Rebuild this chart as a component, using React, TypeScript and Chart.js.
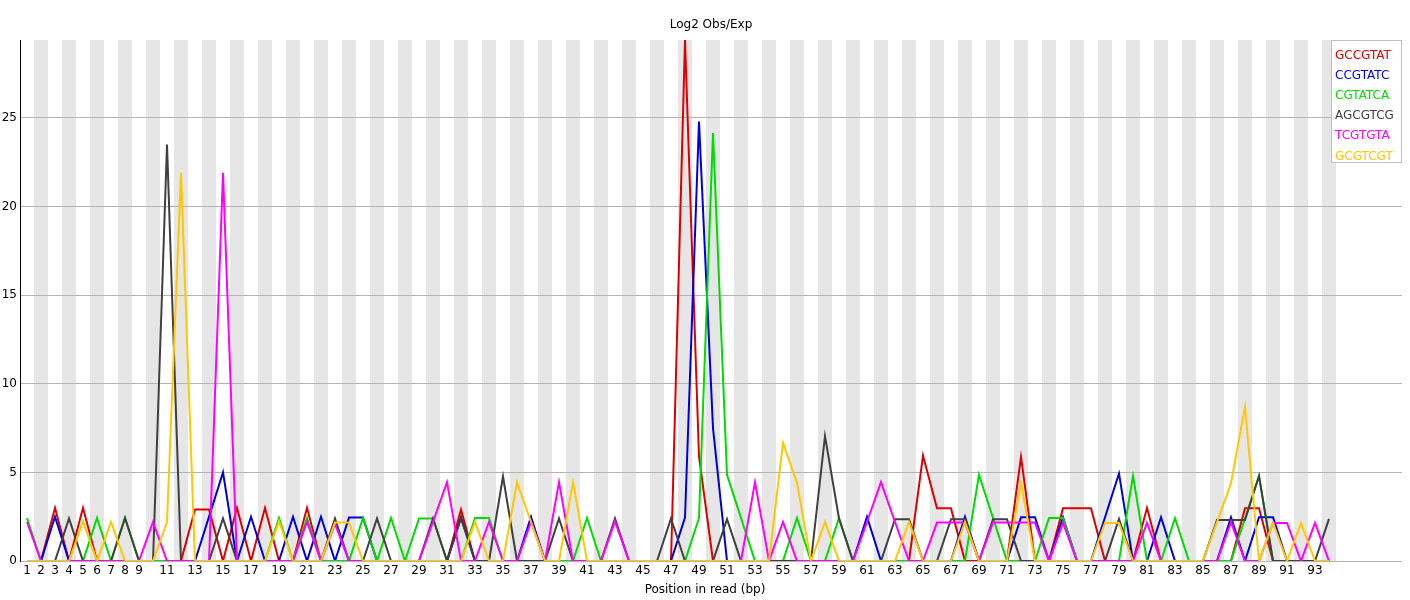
import React, { useEffect, useRef } from 'react';
import { Chart, registerables } from 'chart.js';

Chart.register(...registerables);

const positions = [
  1, 2, 3, 4, 5, 6, 7, 8, 9, 10, 11, 12, 13, 14, 15, 16, 17, 18, 19, 20,
  21, 22, 23, 24, 25, 26, 27, 28, 29, 30, 31, 32, 33, 34, 35, 36, 37, 38, 39, 40,
  41, 42, 43, 44, 45, 46, 47, 48, 49, 50, 51, 52, 53, 54, 55, 56, 57, 58, 59, 60,
  61, 62, 63, 64, 65, 66, 67, 68, 69, 70, 71, 72, 73, 74, 75, 76, 77, 78, 79, 80,
  81, 82, 83, 84, 85, 86, 87, 88, 89, 90, 91, 92, 93, 94,
];

const xTickValues = [
  1, 2, 3, 4, 5, 6, 7, 8, 9, 11, 13, 15, 17, 19, 21, 23, 25, 27, 29, 31, 33, 35,
  37, 39, 41, 43, 45, 47, 49, 51, 53, 55, 57, 59, 61, 63, 65, 67, 69, 71, 73, 75,
  77, 79, 81, 83, 85, 87, 89, 91, 93,
];

const yTickValues = [0, 5, 10, 15, 20, 25];

const kmerNames = ['GCCGTAT', 'CCGTATC', 'CGTATCA', 'AGCGTCG', 'TCGTGTA', 'GCGTCGT'];
const kmerColors = [
  'rgb(220,0,0)',
  'rgb(0,0,220)',
  'rgb(0,220,0)',
  'rgb(64,64,64)',
  'rgb(255,0,255)',
  'rgb(255,200,0)',
];

const gccgtat = [
  0, 0, 3.0, 0, 3.0, 0, 0, 0, 0, 0,
  0, 0, 2.9, 2.9, 0, 3.0, 0, 3.0, 0, 0,
  3.0, 0, 0, 0, 0, 0, 0, 0, 0, 0,
  0, 2.9, 0, 0, 0, 0, 0, 0, 0, 0,
  0, 0, 0, 0, 0, 0, 0, 29.4, 5.9, 0,
  0, 0, 0, 0, 0, 0, 0, 0, 0, 0,
  0, 0, 0, 0, 5.95, 2.97, 2.97, 0, 0, 0,
  0, 5.87, 0, 0, 2.98, 2.98, 2.98, 0, 0, 0,
  3.0, 0, 0, 0, 0, 0, 0, 2.98, 2.98, 0,
  0, 0, 0, 0,
];

const ccgtatc = [
  0, 0, 2.5, 0, 0, 0, 0, 0, 0, 0,
  0, 0, 0, 2.5, 5.0, 0, 2.5, 0, 0, 2.5,
  0, 2.5, 0, 2.45, 2.45, 0, 0, 0, 0, 0,
  0, 2.45, 0, 0, 0, 0, 2.5, 0, 0, 0,
  0, 0, 0, 0, 0, 0, 0, 2.45, 24.8, 7.5,
  0, 0, 0, 0, 0, 0, 0, 0, 0, 0,
  2.5, 0, 0, 0, 0, 0, 0, 2.5, 0, 0,
  0, 2.47, 2.47, 0, 2.47, 0, 0, 2.47, 4.94, 0,
  0, 2.47, 0, 0, 0, 0, 2.47, 0, 2.47, 2.47,
  0, 0, 0, 0,
];

const cgtatca = [
  2.43, 0, 0, 0, 0, 2.43, 0, 2.43, 0, 0,
  0, 0, 0, 0, 0, 0, 0, 0, 2.43, 0,
  2.43, 0, 0, 0, 2.43, 0, 2.43, 0, 2.4, 2.4,
  0, 0, 2.43, 2.43, 0, 0, 0, 0, 0, 0,
  2.43, 0, 0, 0, 0, 0, 0, 0, 2.43, 24.15,
  4.87, 2.43, 0, 0, 0, 2.43, 0, 0, 2.43, 0,
  0, 0, 0, 0, 0, 0, 0, 0, 4.87, 2.43,
  0, 0, 0, 2.42, 2.42, 0, 0, 0, 0, 4.8,
  0, 0, 2.42, 0, 0, 0, 0, 2.4, 4.8, 0,
  0, 0, 0, 0,
];

const agcgtcg = [
  0, 0, 0, 2.4, 0, 0, 0, 2.43, 0, 0,
  23.5, 0, 0, 0, 2.4, 0, 0, 0, 0, 0,
  0, 0, 2.4, 0, 0, 2.4, 0, 0, 0, 2.4,
  0, 2.45, 0, 0, 4.77, 0, 0, 0, 2.4, 0,
  0, 0, 2.4, 0, 0, 0, 2.4, 0, 0, 0,
  2.36, 0, 0, 0, 0, 0, 0, 7.05, 2.4, 0,
  0, 0, 2.36, 2.36, 0, 0, 2.36, 2.36, 0, 2.36,
  2.36, 0, 0, 0, 0, 0, 0, 0, 2.38, 0,
  0, 0, 0, 0, 0, 2.32, 2.32, 2.32, 4.8, 0,
  0, 0, 0, 2.38,
];

const tcgtgta = [
  2.2, 0, 0, 0, 0, 0, 0, 0, 0, 2.2,
  0, 0, 0, 0, 21.9, 0, 0, 0, 0, 0,
  2.2, 0, 2.1, 0, 0, 0, 0, 0, 0, 2.2,
  4.45, 0, 0, 2.2, 0, 0, 2.2, 0, 4.45, 0,
  0, 0, 2.24, 0, 0, 0, 0, 0, 0, 0,
  0, 0, 4.45, 0, 2.2, 0, 0, 0, 0, 0,
  2.2, 4.45, 2.2, 0, 0, 2.17, 2.17, 2.17, 0, 2.17,
  2.17, 2.17, 2.17, 0, 2.15, 0, 0, 0, 0, 0,
  2.15, 0, 0, 0, 0, 0, 2.19, 0, 0, 2.15,
  2.15, 0, 2.15, 0,
];

const gcgtcgt = [
  0, 0, 0, 0, 2.24, 0, 2.2, 0, 0, 0,
  2.2, 21.9, 0, 0, 0, 0, 0, 0, 2.24, 0,
  0, 0, 2.17, 2.17, 0, 0, 0, 0, 0, 0,
  0, 0, 2.2, 0, 0, 4.45, 2.2, 0, 0, 4.45,
  0, 0, 0, 0, 0, 0, 0, 0, 0, 0,
  0, 0, 0, 0, 6.66, 4.4, 0, 2.2, 0, 0,
  0, 0, 0, 2.2, 0, 0, 0, 2.2, 0, 0,
  0, 4.4, 0, 0, 0, 0, 0, 2.15, 2.15, 0,
  0, 0, 0, 0, 0, 2.2, 4.38, 8.7, 0, 2.15,
  0, 2.15, 0, 0,
];

const seriesValues = [gccgtat, ccgtatc, cgtatca, agcgtcg, tcgtgta, gcgtcgt];

const chartTitle = 'Log2 Obs/Exp';
const xAxisTitle = 'Position in read (bp)';
const FONT = '"DejaVu Sans", sans-serif';

export default function App() {
  const ref = useRef<HTMLCanvasElement>(null);

  useEffect(() => {
    document.body.style.margin = '0';
    const canvas = ref.current;
    if (!canvas) return;

    const decor = {
      id: 'decor',
      beforeDraw(chart: any) {
        const { ctx, chartArea: a, scales } = chart;
        const x = scales.x;
        ctx.save();
        ctx.fillStyle = '#ffffff';
        ctx.fillRect(0, 0, chart.width, chart.height);
        ctx.fillStyle = 'rgb(230,230,230)';
        for (const p of positions) {
          if (p % 2 === 0) {
            const l = x.getPixelForValue(p - 0.5);
            const r = x.getPixelForValue(p + 0.5);
            ctx.fillRect(l, a.top, r - l, a.bottom - a.top);
          }
        }
        ctx.restore();
      },
      afterDraw(chart: any) {
        const { ctx, chartArea: a } = chart;
        ctx.save();
        ctx.font = `12px ${FONT}`;
        ctx.fillStyle = '#000';
        ctx.textAlign = 'center';
        ctx.textBaseline = 'middle';
        ctx.fillText(chartTitle, (a.left + a.right) / 2, 25);
        ctx.fillText(xAxisTitle, 705, 590);

        // legend
        const bx = 1331.5, by = 40.5, bw = 70, bh = 122;
        ctx.fillStyle = '#ffffff';
        ctx.fillRect(bx, by, bw, bh);
        ctx.strokeStyle = 'rgb(192,192,192)';
        ctx.lineWidth = 1;
        ctx.strokeRect(bx, by, bw, bh);
        ctx.textAlign = 'left';
        kmerNames.forEach((name, i) => {
          ctx.fillStyle = kmerColors[i];
          ctx.fillText(name, 1335, 55.5 + i * 20.2);
        });
        ctx.restore();
      },
    };

    const chart = new Chart(canvas, {
      type: 'line',
      data: {
        datasets: kmerNames.map((name, i) => ({
          label: name,
          data: positions.map((p, j) => ({ x: p, y: seriesValues[i][j] })),
          borderColor: kmerColors[i],
          backgroundColor: kmerColors[i],
          borderWidth: 2,
          pointRadius: 0,
          pointHoverRadius: 0,
          tension: 0,
          fill: false,
          order: kmerNames.length - i,
        })),
      },
      options: {
        animation: false,
        responsive: false,
        events: [],
        layout: { padding: { top: 40, right: 8, left: 0, bottom: 0 } },
        plugins: {
          legend: { display: false },
          title: { display: false },
          tooltip: { enabled: false },
        },
        scales: {
          x: {
            type: 'linear',
            min: 0.5,
            max: 0.5 + (1402 - 20) / 14,
            grid: { display: false, drawTicks: false },
            border: { display: false },
            afterBuildTicks: (s: any) => {
              s.ticks = xTickValues.map((v) => ({ value: v }));
            },
            afterFit: (s: any) => {
              s.height = 39;
            },
            ticks: {
              autoSkip: false,
              maxRotation: 0,
              minRotation: 0,
              padding: 3,
              color: '#000',
              font: { family: FONT, size: 12 },
              callback: (v: any) => String(v),
            },
          },
          y: {
            type: 'linear',
            min: 0,
            max: 29.4,
            grid: { color: 'rgb(180,180,180)', lineWidth: 1, drawTicks: false },
            border: { display: true, color: '#000', width: 1 },
            afterBuildTicks: (s: any) => {
              s.ticks = yTickValues.map((v) => ({ value: v }));
            },
            afterFit: (s: any) => {
              s.width = 20;
            },
            ticks: {
              padding: 3,
              color: '#000',
              font: { family: FONT, size: 12 },
              callback: (v: any) => String(v),
            },
          },
        },
      },
      plugins: [decor],
    });

    return () => {
      chart.destroy();
    };
  }, []);

  return (
    <div style={{ position: 'absolute', left: 0, top: 0, width: 1410, height: 600 }}>
      <canvas ref={ref} width={1410} height={600} style={{ display: 'block', width: 1410, height: 600 }} />
    </div>
  );
}
